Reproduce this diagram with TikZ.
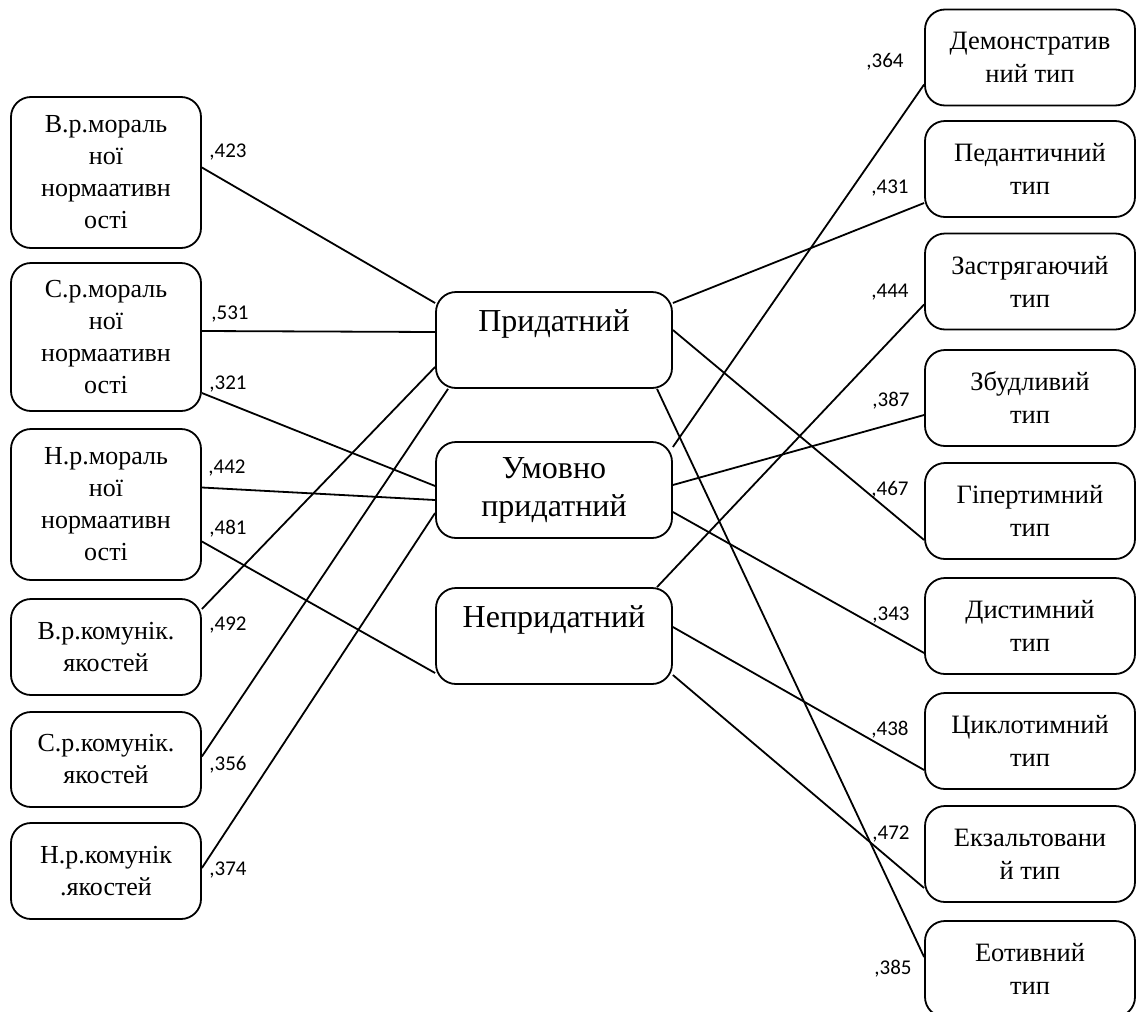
\documentclass[tikz,border=0pt]{standalone}
\usepackage{fontspec}
\setmainfont{Liberation Serif}
\newfontfamily\coeffont{Carlito}

\begin{document}
\begin{tikzpicture}[
    x=1pt, y=-1pt,
    line width=1.8pt,
    every node/.style={draw, rounded corners=20pt, align=center, inner sep=2pt},
    factor/.style={minimum width=190pt, font=\fontsize{26}{32}\selectfont},
    group/.style={minimum width=236pt, minimum height=96pt, font=\fontsize{32}{38}\selectfont},
    accent/.style={minimum width=210pt, minimum height=96pt, font=\fontsize{26.5}{33}\selectfont},
    coef/.style={draw=none, rounded corners=0pt, inner sep=0pt, font=\coeffont\fontsize{21}{24}\selectfont}
    ]
    \useasboundingbox (0,0) rectangle (1138,1012);
    % left column
    \node[factor, minimum height=151pt] (lb1) at (106,172.5) {В.р.мораль\\ної\\нормаативн\\ості};
    \node[factor, minimum height=148pt] (lb2) at (106,337) {С.р.мораль\\ної\\нормаативн\\ості};
    \node[factor, minimum height=151pt] (lb3) at (106,504.5) {Н.р.мораль\\ної\\нормаативн\\ості};
    \node[factor, minimum height=96pt] (lb4) at (106,647) {В.р.комунік.\\якостей};
    \node[factor, minimum height=95pt] (lb5) at (106,759.5) {С.р.комунік.\\якостей};
    \node[factor, minimum height=96pt] (lb6) at (106,871) {Н.р.комунік\\.якостей};
    % groups
    \node[group] (pri) at (554,340) {Придатний\\\mbox{}};
    \node[group] (umov) at (554,490) {Умовно\\придатний};
    \node[group] (nepr) at (554,636) {Непридатний\\\mbox{}};
    % accentuation types
    \node[accent] (dem) at (1030,57.5) {Демонстратив\\ний тип};
    \node[accent] (ped) at (1030,169) {Педантичний\\тип};
    \node[accent] (zas) at (1030,281.5) {Застрягаючий\\тип};
    \node[accent] (zbu) at (1030,398) {Збудливий\\тип};
    \node[accent] (hip) at (1030,511) {Гіпертимний\\тип};
    \node[accent] (dys) at (1030,626) {Дистимний\\тип};
    \node[accent] (cyk) at (1030,741) {Циклотимний\\тип};
    \node[accent] (ekz) at (1030,854) {Екзальтовани\\й тип};
    \node[accent] (eot) at (1030,969) {Еотивний\\тип};

    % left links
    \draw ([yshift=5pt]lb1.east) -- ([yshift=37pt]pri.west);
    \draw ([yshift=6pt]lb2.east) -- ([yshift=8pt]pri.west);
    \draw ([yshift=-56pt]lb2.east) -- ([yshift=4pt]umov.west);
    \draw ([yshift=17pt]lb3.east) -- ([yshift=-10pt]umov.west);
    \draw ([yshift=-37pt]lb3.east) -- ([yshift=-37pt]nepr.west);
    \draw ([yshift=38pt]lb4.east) -- ([yshift=-27pt]pri.west);
    \draw ([yshift=3pt]lb5.east) -- ([xshift=-106pt]pri.south);
    \draw ([yshift=3pt]lb6.east) -- ([yshift=-23pt]umov.west);
    % right links
    \draw ([yshift=37pt]pri.east) -- ([yshift=-34pt]ped.west);
    \draw ([yshift=10pt]pri.east) -- ([yshift=-29pt]hip.west);
    \draw ([xshift=103pt]pri.south) -- ([yshift=12pt]eot.west);
    \draw ([yshift=43pt]umov.east) -- ([yshift=-27pt]dem.west);
    \draw ([yshift=5pt]umov.east) -- ([yshift=-17pt]zbu.west);
    \draw ([yshift=-22pt]umov.east) -- ([yshift=-27pt]dys.west);
    \draw ([xshift=103pt]nepr.north) -- ([yshift=-23pt]zas.west);
    \draw ([yshift=9pt]nepr.east) -- ([yshift=-29pt]cyk.west);
    \draw ([yshift=-39pt]nepr.east) -- ([yshift=-34pt]ekz.west);

    % coefficients
    \node[coef] (c423) at (228,152) {,423};
    \node[coef] (c531) at (230,314) {,531};
    \node[coef] (c321) at (228,384) {,321};
    \node[coef] (c442) at (227,468) {,442};
    \node[coef] (c481) at (228,529) {,481};
    \node[coef] (c492) at (228,625) {,492};
    \node[coef] (c356) at (228,765) {,356};
    \node[coef] (c374) at (228,870) {,374};
    \node[coef] (c364) at (885,62) {,364};
    \node[coef] (c431) at (890,188) {,431};
    \node[coef] (c444) at (890,292) {,444};
    \node[coef] (c387) at (891,401) {,387};
    \node[coef] (c467) at (890,490) {,467};
    \node[coef] (c343) at (891,615) {,343};
    \node[coef] (c438) at (890,730) {,438};
    \node[coef] (c472) at (891,834) {,472};
    \node[coef] (c385) at (893,969) {,385};
\end{tikzpicture}
\end{document}
